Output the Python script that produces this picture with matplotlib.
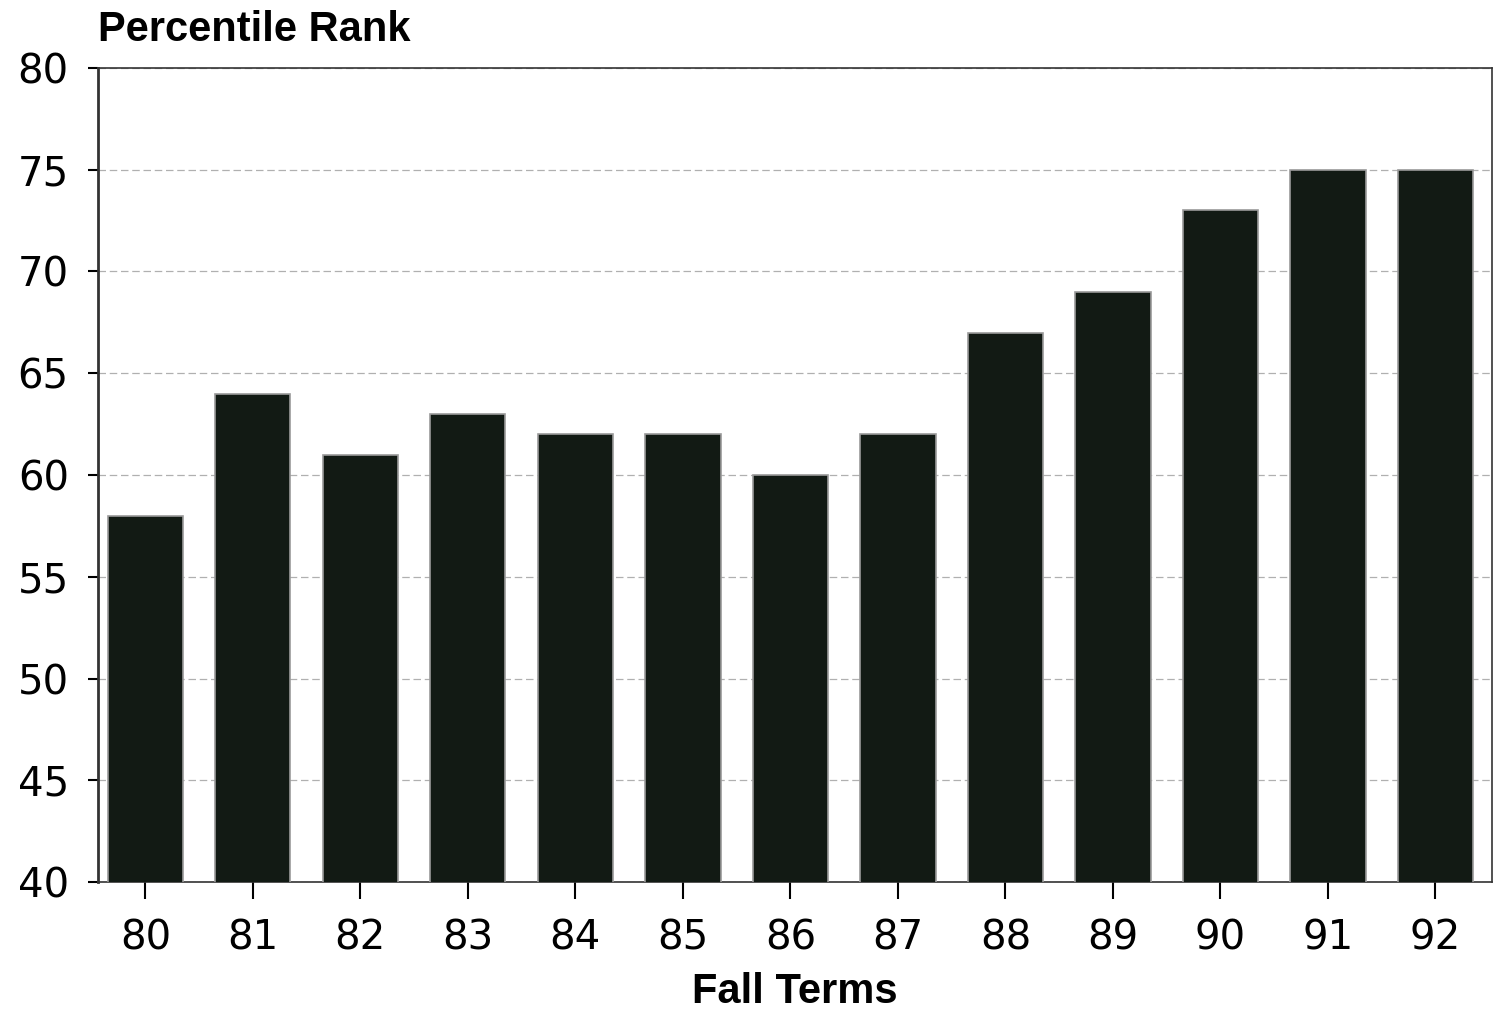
import matplotlib
matplotlib.use('Agg')
import matplotlib.pyplot as plt

terms = ['80', '81', '82', '83', '84', '85', '86', '87', '88', '89', '90', '91', '92']
rank = [58, 64, 61, 63, 62, 62, 60, 62, 67, 69, 73, 75, 75]

plt.rcParams['font.family'] = ['Liberation Sans', 'DejaVu Sans']

fig = plt.figure(figsize=(15.01, 10.14), dpi=100)
ax = fig.add_axes([0.0653, 0.130, 0.929, 0.803])

x = list(range(len(terms)))
ax.bar(x, rank, width=0.7, bottom=0, color='#121a14', edgecolor='#9a9a9a',
       linewidth=1.2, zorder=3)

ax.set_ylim(40, 80)
ax.set_xlim(-0.44, 12.53)
ax.set_yticks(range(40, 81, 5))
ax.set_xticks(x)
ax.set_xticklabels(terms)
ax.tick_params(axis='both', labelsize=29, colors='black', width=1.5)
ax.tick_params(axis='x', length=12, pad=14)
ax.tick_params(axis='y', length=7, pad=14)
for lab in ax.get_xticklabels() + ax.get_yticklabels():
    lab.set_family('DejaVu Sans')
ax.yaxis.grid(True, linestyle=(0, (6, 3)), color='#b0b0b0', linewidth=0.9, zorder=0)

for s in ax.spines.values():
    s.set_linewidth(1.2)
    s.set_color('#333333')
ax.spines['left'].set_linewidth(2)

ax.set_xlabel('Fall Terms', fontsize=30, fontweight='bold', labelpad=10)
fig.text(0.0653, 0.970, 'Percentile Rank', fontsize=30, fontweight='bold',
         ha='left', va='center')

fig.savefig('out.png', dpi=100)
